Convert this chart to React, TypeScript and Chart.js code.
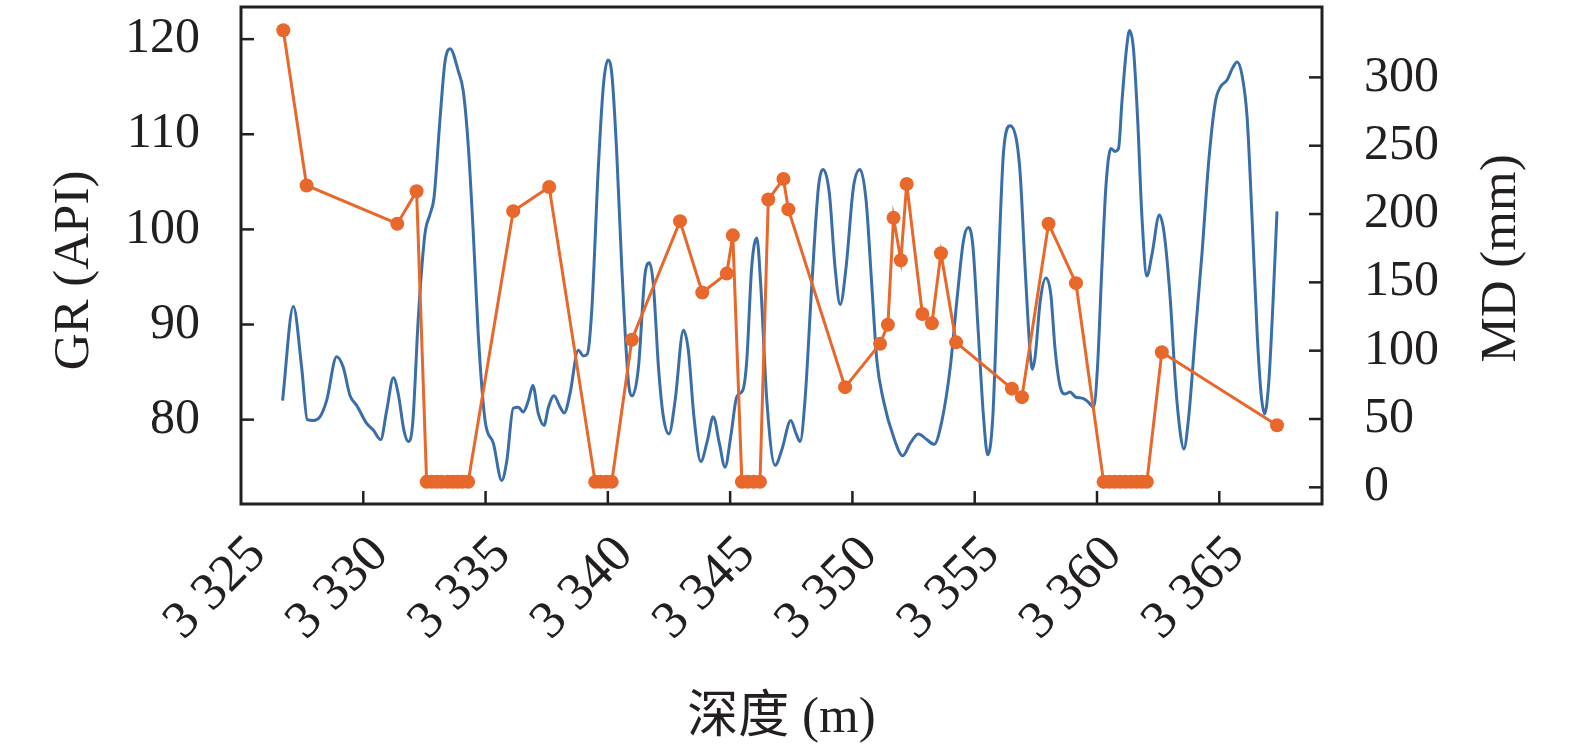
import React, { useEffect, useRef } from "react";
import { Chart, registerables } from "chart.js";

Chart.register(...registerables);

// GR log (depth in m, GR in API)
const grDepth = [
  3326.70, 3327.14, 3327.48, 3327.71, 3327.96, 3328.23, 3328.50, 3328.91, 3329.18, 3329.46,
  3329.73, 3330.14, 3330.41, 3330.71, 3330.96, 3331.23, 3331.43, 3331.66, 3331.84, 3332.02,
  3332.25, 3332.52, 3332.73, 3332.89, 3333.14, 3333.34, 3333.55, 3333.89, 3334.09, 3334.29,
  3334.50, 3334.70, 3334.98, 3335.32, 3335.66, 3335.87, 3336.13, 3336.34, 3336.54, 3336.75,
  3336.93, 3337.16, 3337.39, 3337.57, 3337.80, 3338.05, 3338.22, 3338.45, 3338.79, 3339.00,
  3339.16, 3339.34, 3339.61, 3339.82, 3340.00, 3340.16, 3340.36, 3340.57, 3340.84, 3341.00,
  3341.25, 3341.52, 3341.70, 3341.86, 3342.07, 3342.27, 3342.50, 3342.75, 3343.09, 3343.29,
  3343.52, 3343.80, 3344.07, 3344.31, 3344.56, 3344.79, 3345.04, 3345.27, 3345.52, 3345.68,
  3345.88, 3346.09, 3346.25, 3346.50, 3346.84, 3347.11, 3347.48, 3347.70, 3347.86, 3348.06,
  3348.34, 3348.61, 3348.81, 3349.06, 3349.29, 3349.50, 3349.74, 3350.04, 3350.31, 3350.56,
  3350.79, 3351.00, 3351.27, 3351.68, 3352.06, 3352.36, 3352.70, 3353.04, 3353.34, 3353.66,
  3354.00, 3354.27, 3354.54, 3354.74, 3354.92, 3355.15, 3355.36, 3355.53, 3355.74, 3355.97,
  3356.18, 3356.45, 3356.72, 3356.86, 3357.06, 3357.27, 3357.36, 3357.47, 3357.68, 3357.91,
  3358.11, 3358.29, 3358.50, 3358.70, 3358.90, 3359.11, 3359.45, 3359.66, 3359.86, 3360.02,
  3360.20, 3360.37, 3360.57, 3360.74, 3360.88, 3361.02, 3361.19, 3361.33, 3361.49, 3361.66,
  3361.84, 3362.04, 3362.25, 3362.55, 3362.75, 3363.00, 3363.21, 3363.41, 3363.55, 3363.75,
  3364.02, 3364.30, 3364.57, 3364.84, 3365.05, 3365.32, 3365.53, 3365.73, 3365.93, 3366.14,
  3366.34, 3366.55, 3366.71, 3366.85, 3367.02, 3367.20, 3367.36,
];
const grValue = [
  82.0, 91.9, 85.5, 80.0, 79.9, 80.3, 82.0, 86.6, 85.5, 82.5,
  81.5, 79.6, 78.9, 77.9, 81.0, 84.4, 82.7, 78.9, 77.7, 79.6,
  90.7, 99.5, 101.6, 103.3, 111.7, 117.6, 119.0, 116.6, 114.5, 108.9,
  99.5, 89.0, 79.9, 77.5, 73.6, 75.7, 81.2, 81.3, 80.8, 82.0,
  83.6, 80.6, 79.4, 81.3, 82.5, 81.3, 80.7, 82.7, 87.3, 86.7,
  86.9, 91.4, 106.5, 115.2, 117.8, 116.4, 108.2, 96.0, 84.0, 82.5,
  85.5, 95.3, 96.5, 94.2, 85.5, 80.3, 78.5, 82.0, 89.4, 87.3,
  80.3, 75.6, 77.8, 80.3, 77.5, 75.0, 78.5, 82.4, 83.1, 86.2,
  96.0, 99.1, 94.2, 82.0, 75.2, 76.8, 79.9, 78.5, 77.7, 82.0,
  94.2, 104.4, 106.3, 103.7, 96.0, 92.1, 96.0, 104.4, 106.3, 103.0,
  94.2, 86.2, 82.0, 78.2, 76.2, 77.5, 78.5, 77.9, 77.4, 79.9,
  85.5, 92.5, 98.8, 100.2, 98.4, 89.0, 80.3, 76.3, 80.3, 96.0,
  108.2, 110.9, 109.2, 105.8, 96.0, 86.9, 85.3, 86.6, 92.5, 94.9,
  93.2, 87.3, 83.4, 82.7, 82.9, 82.4, 82.2, 81.8, 81.3, 85.5,
  96.0, 104.7, 108.5, 108.2, 108.5, 113.4, 118.6, 120.9, 119.0, 111.7,
  101.2, 95.1, 97.4, 101.5, 99.5, 92.5, 83.8, 78.5, 76.9, 80.3,
  89.0, 97.7, 107.2, 113.4, 115.0, 115.7, 116.9, 117.6, 116.2, 111.7,
  101.2, 89.0, 82.7, 80.6, 83.8, 92.5, 101.9,
];

// MD measurements (depth in m, MD in mm)
const mdDepth = [
  3326.73, 3327.68, 3331.39, 3332.18,
  3332.59, 3332.80, 3333.00, 3333.20, 3333.45, 3333.65, 3333.85, 3334.05, 3334.29,
  3336.13, 3337.60,
  3339.48, 3339.70, 3339.93, 3340.16,
  3340.98, 3342.95, 3343.86, 3344.86, 3345.11,
  3345.48, 3345.72, 3345.97, 3346.22,
  3346.56, 3347.18, 3347.38, 3349.70, 3351.13, 3351.45, 3351.68, 3351.98, 3352.22,
  3352.86, 3353.25, 3353.62, 3354.24, 3356.52, 3356.93, 3358.02, 3359.14,
  3360.27, 3360.50, 3360.72, 3360.95, 3361.17, 3361.40, 3361.62, 3361.84, 3362.04,
  3362.65, 3367.36,
];
const mdValue = [
  334.5, 220.9, 192.9, 216.7,
  4, 4, 4, 4, 4, 4, 4, 4, 4,
  202.1, 219.8,
  4, 4, 4, 4,
  108.0, 194.8, 142.6, 156.4, 184.4,
  4, 4, 4, 4,
  210.6, 225.7, 203.4, 73.3, 105.0, 119.0, 197.2, 166.2, 222.0,
  126.8, 120.0, 171.3, 106.1, 72.2, 66.0, 192.9, 149.4,
  4, 4, 4, 4, 4, 4, 4, 4, 4,
  98.8, 45.4,
];

const xMin = 3325;
const xMax = 3369.2;
const grMin = 71.13;
const grMax = 123.38;
const mdMin = -12.2;
const mdMax = 351.5;
const mdTickMax = 300;

const xTitle = "深度 (m)";
const yLeftTitle = "GR (API)";
const yRightTitle = "MD (mm)";

const BLUE = "#3a6ea8";
const ORANGE = "#e8672a";
const INK = "#231f20";
const SERIF = "'Liberation Serif', 'Times New Roman', 'Noto Sans CJK SC', serif";

function fmtDepth(v: number): string {
  const th = Math.floor(v / 1000);
  const rest = Math.round(v - th * 1000);
  return th + " " + String(rest).padStart(3, "0");
}

const framePlugin = {
  id: "frameAndTicks",
  afterDraw(chart: any) {
    const { ctx, chartArea } = chart;
    const { left, right, top, bottom } = chartArea;
    ctx.save();
    ctx.strokeStyle = INK;
    ctx.lineWidth = 3;
    ctx.strokeRect(left, top, right - left, bottom - top);
    ctx.lineWidth = 2.5;
    const tl = 13;
    const xs = chart.scales.x;
    xs.ticks.forEach((t: any) => {
      const px = xs.getPixelForValue(t.value);
      if (px <= left + 2 || px >= right - 2) return;
      ctx.beginPath();
      ctx.moveTo(px, bottom);
      ctx.lineTo(px, bottom - tl);
      ctx.stroke();
    });
    const yl = chart.scales.y;
    yl.ticks.forEach((t: any) => {
      const py = yl.getPixelForValue(t.value);
      ctx.beginPath();
      ctx.moveTo(left, py);
      ctx.lineTo(left + tl, py);
      ctx.stroke();
    });
    const yr = chart.scales.y1;
    yr.ticks.forEach((t: any) => {
      const py = yr.getPixelForValue(t.value);
      ctx.beginPath();
      ctx.moveTo(right, py);
      ctx.lineTo(right - tl, py);
      ctx.stroke();
    });

    // axis titles
    ctx.fillStyle = INK;
    ctx.font = "51px " + SERIF;
    ctx.textAlign = "center";
    ctx.textBaseline = "middle";
    const cy = (top + bottom) / 2;
    ctx.save();
    ctx.translate(left - 166, cy + 15);
    ctx.rotate(-Math.PI / 2);
    ctx.fillText(yLeftTitle, 0, 0);
    ctx.restore();
    ctx.save();
    ctx.translate(right + 180, cy + 3);
    ctx.rotate(-Math.PI / 2);
    ctx.fillText(yRightTitle, 0, 0);
    ctx.restore();
    ctx.fillText(xTitle, (left + right) / 2, bottom + 215);
    ctx.restore();
  },
};

export default function App() {
  const ref = useRef<HTMLCanvasElement | null>(null);

  useEffect(() => {
    if (!ref.current) return;
    const grData = grDepth.map((d, i) => ({ x: d, y: grValue[i] }));
    const mdData = mdDepth.map((d, i) => ({ x: d, y: mdValue[i] }));
    const tickFont = { family: SERIF, size: 50 };
    const noPadV = (s: any) => {
      s.paddingTop = 0;
      s.paddingBottom = 0;
    };
    const chart = new Chart(ref.current, {
      type: "line",
      data: {
        datasets: [
          {
            label: "MD",
            data: mdData,
            yAxisID: "y1",
            borderColor: ORANGE,
            backgroundColor: ORANGE,
            borderWidth: 3,
            pointRadius: 7,
            pointBorderWidth: 0,
            pointBackgroundColor: ORANGE,
            tension: 0,
            order: 1,
          },
          {
            label: "GR",
            data: grData,
            yAxisID: "y",
            borderColor: BLUE,
            borderWidth: 3,
            pointRadius: 0,
            cubicInterpolationMode: "monotone",
            order: 2,
          },
        ],
      },
      options: {
        responsive: false,
        animation: false,
        devicePixelRatio: 1,
        layout: { padding: { top: 5, left: 0, right: 0, bottom: 0 } },
        plugins: { legend: { display: false }, tooltip: { enabled: false } },
        scales: {
          x: {
            type: "linear",
            min: xMin,
            max: xMax,
            grid: { display: false, drawTicks: false },
            border: { display: false },
            ticks: {
              stepSize: 5,
              includeBounds: false,
              autoSkip: false,
              minRotation: 45,
              maxRotation: 45,
              padding: 20,
              labelOffset: 17,
              color: INK,
              font: { family: SERIF, size: 53 },
              callback: (v: any) => fmtDepth(Number(v)),
            },
            afterFit: (s: any) => {
              s.height = 246;
              s.paddingLeft = 0;
              s.paddingRight = 0;
            },
          },
          y: {
            type: "linear",
            position: "left",
            min: grMin,
            max: grMax,
            grid: { display: false, drawTicks: false },
            border: { display: false },
            ticks: {
              stepSize: 10,
              includeBounds: false,
              padding: 41,
              color: INK,
              font: tickFont,
            },
            afterFit: (s: any) => {
              s.width = 241;
              noPadV(s);
            },
          },
          y1: {
            type: "linear",
            position: "right",
            min: mdMin,
            max: mdMax,
            grid: { display: false, drawTicks: false },
            border: { display: false },
            ticks: {
              stepSize: 50,
              includeBounds: false,
              padding: 42,
              color: INK,
              font: tickFont,
            },
            afterBuildTicks: (s: any) => {
              s.ticks = s.ticks.filter((t: any) => t.value <= mdTickMax);
            },
            afterFit: (s: any) => {
              s.width = 253;
              noPadV(s);
            },
          },
        },
      },
      plugins: [framePlugin],
    });
    return () => chart.destroy();
  }, []);

  return (
    <div style={{ position: "fixed", left: 0, top: 0, width: 1575, height: 750, background: "#fff" }}>
      <canvas ref={ref} width={1575} height={750} style={{ width: 1575, height: 750 }} />
    </div>
  );
}
